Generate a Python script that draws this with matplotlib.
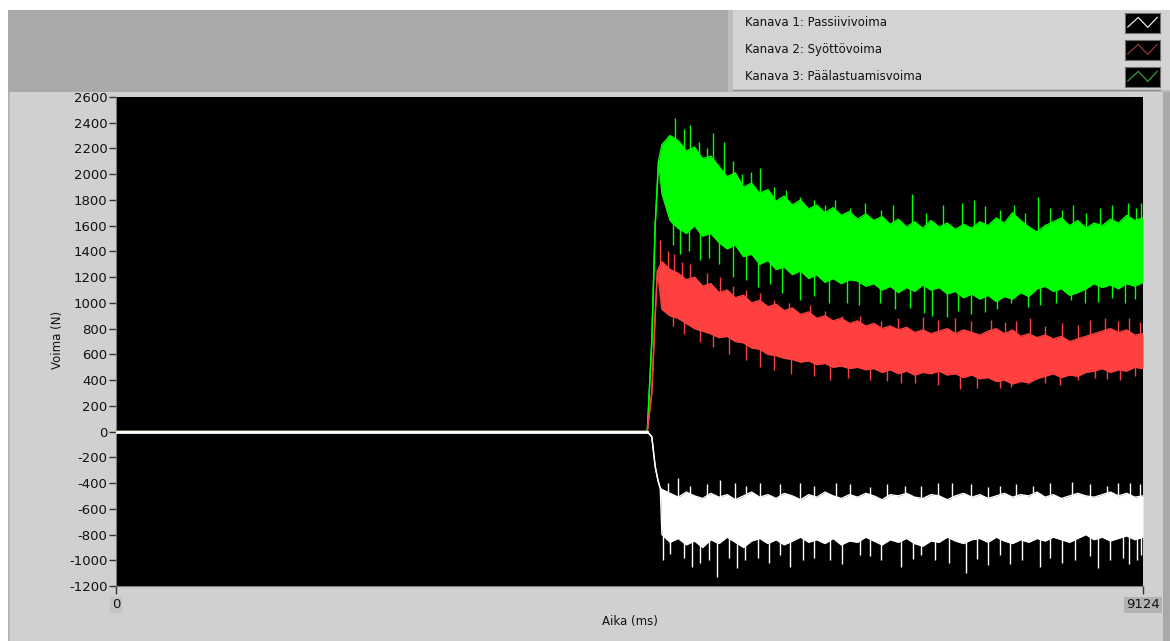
import numpy as np
import matplotlib.pyplot as plt
from matplotlib.patches import Rectangle
from matplotlib.lines import Line2D

plt.rcParams['font.family'] = ['DejaVu Sans']

W, H = 1170, 641
T_END = 9124

# --- measured cutting forces (N) -------------------------------------------
# idle part before the tool enters the workpiece
idle_t = [0, 4720]
idle_f = [0, 0]

# entry ramp for each channel
ramp_t_pass = [4720, 4760, 4790, 4815, 4835]
ramp_f_pass = [0, -40, -270, -380, -440]
ramp_t_feed = [4720, 4760, 4790, 4810]
ramp_f_feed = [0, 300, 900, 1250]
ramp_t_main = [4720, 4760, 4790, 4820]
ramp_f_main = [0, 700, 1600, 2100]

# band of the noisy signal after entry (upper / lower edge)
env_t = np.linspace(4850, T_END, 60)

main_hi = [2230, 2300, 2260, 2180, 2210, 2120, 2140, 2060, 1980, 2010,
           1900, 1930, 1850, 1880, 1790, 1830, 1760, 1800, 1730, 1760,
           1700, 1740, 1680, 1710, 1650, 1690, 1640, 1670, 1610, 1650,
           1590, 1630, 1580, 1640, 1590, 1620, 1570, 1610, 1580, 1630,
           1600, 1660, 1620, 1700, 1640, 1590, 1550, 1600, 1630, 1660,
           1600, 1640, 1580, 1620, 1600, 1650, 1620, 1680, 1640, 1660]
main_lo = [1850, 1640, 1580, 1540, 1600, 1520, 1540, 1470, 1420, 1450,
           1360, 1380, 1300, 1330, 1260, 1280, 1220, 1250, 1190, 1220,
           1160, 1190, 1150, 1180, 1170, 1130, 1150, 1100, 1130, 1080,
           1120, 1090, 1140, 1100, 1120, 1070, 1090, 1040, 1070, 1030,
           1060, 1010, 1050, 1030, 1080, 1050, 1110, 1130, 1090, 1110,
           1060, 1080, 1110, 1150, 1120, 1140, 1110, 1150, 1130, 1160]

feed_hi = [1320, 1260, 1230, 1180, 1200, 1130, 1150, 1080, 1100, 1040,
           1060, 1000, 1020, 970, 990, 940, 960, 910, 930, 880,
           900, 860, 880, 840, 860, 820, 840, 800, 820, 790,
           810, 770, 790, 760, 780, 800, 760, 790, 770, 750,
           780, 800, 760, 790, 740, 760, 730, 750, 720, 740,
           700, 720, 740, 760, 780, 800, 770, 790, 750, 760]
feed_lo = [950, 900, 880, 840, 800, 780, 760, 730, 740, 700,
           690, 650, 640, 600, 590, 570, 560, 540, 550, 520,
           530, 500, 510, 490, 500, 480, 490, 460, 480, 450,
           470, 440, 460, 450, 470, 440, 450, 420, 440, 410,
           420, 390, 400, 370, 390, 380, 410, 430, 450, 420,
           440, 430, 460, 470, 490, 460, 480, 470, 500, 490]

pass_hi = [-450, -480, -510, -470, -500, -520, -480, -510, -490, -530,
           -500, -470, -510, -490, -520, -480, -500, -530, -490, -510,
           -470, -500, -520, -490, -510, -480, -500, -530, -490, -500,
           -480, -510, -520, -490, -500, -530, -500, -480, -510, -490,
           -520, -500, -480, -510, -490, -500, -470, -510, -490, -520,
           -500, -480, -500, -510, -490, -470, -500, -480, -510, -500]
pass_lo = [-800, -860, -830, -880, -850, -900, -840, -870, -820, -860,
           -900, -850, -830, -870, -840, -880, -850, -820, -860, -840,
           -870, -830, -880, -850, -860, -820, -850, -880, -840, -860,
           -830, -870, -890, -850, -860, -820, -850, -870, -840, -830,
           -860, -820, -850, -870, -840, -860, -830, -850, -820, -840,
           -860, -830, -800, -840, -820, -850, -830, -810, -840, -820]

# single peaks sticking out of the band
main_up_t = [4900, 4970, 5050, 5100, 5180, 5250, 5300, 5400, 5480, 5560, 5640, 5720, 5850, 5950,
             6080, 6200, 6300, 6390, 6520, 6650, 6800, 6900, 7070, 7200, 7350, 7520, 7620, 7720,
             7850, 7980, 8080, 8190, 8300, 8400, 8500, 8620, 8740, 8850, 8990, 9060, 9110]
main_up_f = [2300, 2440, 2350, 2380, 2250, 2200, 2320, 2250, 2100, 2000, 2020, 2050, 1900, 1880,
             1820, 1800, 1760, 1800, 1740, 1780, 1720, 1760, 1850, 1700, 1760, 1780, 1800, 1750,
             1720, 1760, 1700, 1820, 1740, 1720, 1760, 1700, 1740, 1760, 1775, 1740, 1780]
main_dn_t = [4950, 5010, 5090, 5190, 5270, 5360, 5480, 5600, 5700, 5810, 5920, 6080, 6200, 6330,
             6490, 6600, 6790, 6920, 7050, 7180, 7250, 7380, 7480, 7600, 7720, 7830, 7950, 8100,
             8210, 8350, 8480, 8610, 8720, 8850, 8960, 9050]
main_dn_f = [1450, 1380, 1400, 1330, 1350, 1300, 1200, 1180, 1120, 1150, 1080, 1020, 1050, 1000,
             1000, 980, 1000, 950, 960, 920, 900, 890, 940, 910, 930, 950, 1000, 970,
             980, 1000, 1020, 1000, 1010, 1040, 1000, 1030]

feed_up_t = [4830, 4900, 4960, 5030, 5100, 5250, 5370, 5480, 5600, 5720, 5850, 5980, 6170, 6300,
             6450, 6610, 6800, 6950, 7170, 7300, 7450, 7600, 7770, 7900, 8000, 8120, 8250, 8400,
             8550, 8650, 8790, 8900, 9000, 9100]
feed_up_f = [1490, 1400, 1380, 1320, 1300, 1230, 1200, 1130, 1100, 1080, 1020, 1000, 980, 940,
             900, 900, 860, 880, 890, 870, 880, 860, 870, 850, 860, 880, 820, 840,
             830, 870, 880, 860, 880, 850]
feed_dn_t = [4950, 5050, 5190, 5300, 5450, 5600, 5720, 5850, 6000, 6200, 6340, 6500, 6700, 6850,
             6970, 7100, 7300, 7500, 7650, 7850, 7950, 8100, 8250, 8390, 8550, 8700, 8800, 8920, 9050]
feed_dn_f = [820, 760, 700, 660, 600, 560, 500, 480, 450, 430, 400, 420, 400, 390,
             380, 380, 360, 330, 340, 340, 350, 370, 380, 360, 400, 420, 410, 400, 430]

pass_up_t = [4900, 4990, 5100, 5250, 5370, 5500, 5600, 5720, 5900, 6080, 6200, 6400, 6520, 6700,
             6850, 7010, 7150, 7300, 7430, 7600, 7750, 7850, 8000, 8150, 8300, 8490, 8650, 8800,
             8900, 9010, 9100]
pass_up_f = [-400, -360, -420, -410, -380, -400, -420, -400, -410, -400, -420, -400, -410, -430,
             -410, -420, -420, -400, -400, -410, -430, -420, -410, -420, -400, -390, -410, -420,
             -400, -400, -410]
pass_dn_t = [4860, 4920, 5050, 5120, 5190, 5270, 5340, 5450, 5520, 5590, 5700, 5800, 5900, 5990,
             6100, 6200, 6340, 6450, 6610, 6700, 6800, 6970, 7080, 7150, 7280, 7400, 7550, 7650,
             7750, 7850, 7940, 8050, 8210, 8300, 8400, 8520, 8650, 8720, 8830, 8950, 9000, 9070, 9110]
pass_dn_f = [-1000, -950, -980, -1050, -1020, -1000, -1130, -980, -1060, -1000, -980, -1020, -960, -1050,
             -1000, -980, -1000, -1030, -960, -970, -1000, -1050, -990, -960, -1000, -1020, -1100, -990,
             -1040, -960, -1030, -1000, -1050, -980, -1020, -1000, -970, -1060, -1000, -980, -1030, -1000, -960]

y_ticks = list(range(-1200, 2601, 200))

channels = [
    ('#00ff00', ramp_t_main, ramp_f_main, main_hi, main_lo, main_up_t, main_up_f, main_dn_t, main_dn_f),
    ('#ff4040', ramp_t_feed, ramp_f_feed, feed_hi, feed_lo, feed_up_t, feed_up_f, feed_dn_t, feed_dn_f),
    ('#ffffff', ramp_t_pass, ramp_f_pass, pass_hi, pass_lo, pass_up_t, pass_up_f, pass_dn_t, pass_dn_f),
]
legend_rows = [('Kanava 1: Passiivivoima', '#e6e6e6'),
               ('Kanava 2: Syöttövoima', '#8c3c3c'),
               ('Kanava 3: Päälastuamisvoima', '#3c9c3c')]


def px(x, y, w, h):
    """pixel box (top-left origin) -> figure fraction rect"""
    return [x / W, 1 - (y + h) / H, w / W, h / H]


fig = plt.figure(figsize=(W / 100, H / 100), dpi=100, facecolor='white')

# panel backgrounds
for (x, y, w, h, c) in [
    (8, 10, 722, 82, '#a9a9a9'),
    (728, 10, 442, 82, '#bdbdbd'),
    (733, 10, 437, 80, '#d3d3d3'),
    (8, 92, 1162, 549, '#d0d0d0'),
    (1163, 92, 7, 549, '#a9a9a9'),
    (8, 92, 2, 549, '#b5b5b5'),
]:
    r = px(x, y, w, h)
    fig.patches.append(Rectangle((r[0], r[1]), r[2], r[3], transform=fig.transFigure,
                                 facecolor=c, edgecolor='none', zorder=-5))
fig.add_artist(Line2D([733 / W, 1160 / W], [1 - 90 / H] * 2, color='#8a8a8a', lw=1, zorder=-4))

# legend
for i, (name, swatch) in enumerate(legend_rows):
    yc = 23 + 27 * i
    fig.text(745 / W, 1 - yc / H, name, fontsize=8.5, color='#111111', va='center', ha='left')
    sax = fig.add_axes(px(1125, yc - 10, 35, 20))
    sax.set_facecolor('black')
    sax.plot([0.08, 0.38, 0.65, 0.92], [0.3, 0.78, 0.28, 0.78], color=swatch, lw=0.9)
    sax.set_xlim(0, 1)
    sax.set_ylim(0, 1)
    sax.set_xticks([])
    sax.set_yticks([])
    for s in sax.spines.values():
        s.set_color('#707070')
        s.set_linewidth(0.8)

# plot area
ax = fig.add_axes(px(116, 97, 1027, 489))
ax.set_facecolor('black')

for (col, rt, rf, hi, lo, ut, uf, dt, df) in channels:
    t_all = np.concatenate([idle_t, rt, env_t])
    hi_all = np.concatenate([idle_f, rf, hi])
    lo_all = np.concatenate([idle_f, rf, lo])
    ax.fill_between(t_all, lo_all, hi_all, color=col, lw=0, zorder=2)
    ax.plot(t_all, hi_all, color=col, lw=1.0, zorder=2)
    ax.plot(t_all, lo_all, color=col, lw=1.0, zorder=2)
    mid = (np.array(hi) + np.array(lo)) / 2
    ax.vlines(ut, np.interp(ut, env_t, mid), uf, color=col, lw=1.0, zorder=2)
    ax.vlines(dt, df, np.interp(dt, env_t, mid), color=col, lw=1.0, zorder=2)

# idle line drawn on top
ax.plot(idle_t, idle_f, color='white', lw=2.0, zorder=3)

ax.set_xlim(0, T_END)
ax.set_ylim(-1200, 2600)
ax.set_yticks(y_ticks)
ax.set_yticklabels([str(v) for v in y_ticks])
ax.set_xticks([0, T_END])
ax.set_xticklabels(['0', str(T_END)])
ax.tick_params(axis='y', direction='out', length=5, width=1, color='#333333',
               labelsize=9.5, labelcolor='#111111', pad=1)
ax.tick_params(axis='x', direction='out', length=6, width=1, color='#333333',
               labelsize=9.5, labelcolor='#111111', pad=3)
for lbl, bg in zip(ax.get_xticklabels(), ['#c4c4c4', '#b2b2b2']):
    lbl.set_bbox(dict(boxstyle='square,pad=0.15', facecolor=bg, edgecolor='none'))
for side in ['top', 'right']:
    ax.spines[side].set_visible(False)
ax.spines['left'].set_color('#7a7a7a')
ax.spines['bottom'].set_color('#7a7a7a')

fig.text(630 / W, 1 - 621 / H, 'Aika (ms)', fontsize=8.5, color='#111111', ha='center', va='center')
fig.text(57 / W, 1 - 340 / H, 'Voima (N)', fontsize=8.5, color='#111111', ha='center', va='center',
         rotation=90)

fig.savefig('out.png', dpi=100, facecolor='white')
